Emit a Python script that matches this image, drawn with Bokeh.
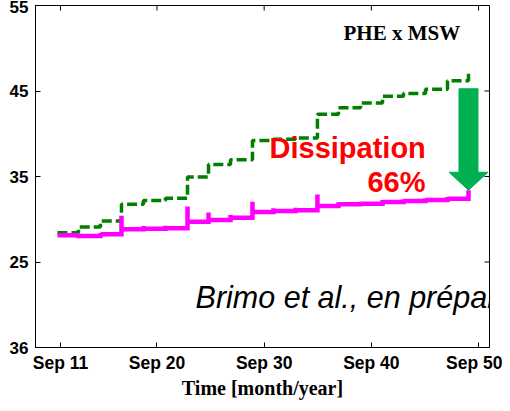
import math
from bokeh.plotting import figure
from bokeh.models import FixedTicker, Label, Range1d
from bokeh.embed import file_html
from bokeh.resources import INLINE

# ---- data ----
step_times = [2010.72, 2012.68, 2014.73, 2016.69, 2018.74, 2020.79, 2022.85, 2024.81,
              2026.86, 2028.91, 2030.87, 2032.92, 2034.97, 2036.93, 2038.99, 2041.04,
              2043.00, 2045.05, 2047.10, 2049.06]
end_time = 2049.25
green_values = [28.43, 29.1, 29.8, 31.75, 32.2, 32.45, 34.95, 36.4, 36.95, 39.2,
                39.35, 39.5, 42.27, 43.05, 43.6, 44.4, 44.7, 45.2, 46.2, 47.1]
magenta_plateau = [28.12, 28.04, 28.24, 28.82, 28.9, 28.94, 29.72, 29.91, 30.18, 30.85,
                   30.96, 31.04, 31.55, 31.75, 31.82, 32.02, 32.13, 32.25, 32.4, 32.6]
magenta_peak = [28.12, 28.2, 28.4, 30.4, 29.2, 29.25, 31.5, 30.8, 30.5, 32.05,
                31.3, 31.35, 32.9, 32.0, 32.05, 32.25, 32.35, 32.45, 32.6, 33.4]
arrow_top_value = 45.26

x_ticks = [2011, 2020, 2030, 2040, 2050]
x_tick_labels = ["Sep 11", "Sep 20", "Sep 30", "Sep 40", "Sep 50"]
y_ticks = [15, 25, 35, 45, 55]
y_tick_labels = ["36", "25", "35", "45", "55"]

X0, X1 = 2008.67, 2051.02
Y0, Y1 = 15, 55

p = figure(width=502, height=403, output_backend="svg", toolbar_location=None,
           x_range=Range1d(X0, X1), y_range=Range1d(Y0, Y1),
           min_border_left=35, min_border_right=13, min_border_top=5, min_border_bottom=56,
           background_fill_color="white", border_fill_color="white")
p.xgrid.visible = False
p.ygrid.visible = False
p.outline_line_color = "black"
p.outline_line_width = 1

def style_axis(ax, ticks, labels, font_size):
    ax.ticker = FixedTicker(ticks=ticks)
    ax.major_label_overrides = {t: l for t, l in zip(ticks, labels)}
    ax.major_tick_in = 5
    ax.major_tick_out = 0
    ax.minor_tick_line_color = None
    ax.axis_line_color = "black"
    ax.major_tick_line_color = "black"
    ax.major_label_text_font = "Liberation Sans"
    ax.major_label_text_font_style = "bold"
    ax.major_label_text_color = "black"
    ax.major_label_text_font_size = font_size

style_axis(p.xaxis[0], x_ticks, x_tick_labels, "17.5px")
p.xaxis[0].major_label_standoff = 5
p.xaxis[0].axis_label = "Time [month/year]"
p.xaxis[0].axis_label_text_font = "Liberation Serif"
p.xaxis[0].axis_label_text_font_style = "bold"
p.xaxis[0].axis_label_text_font_size = "20px"
p.xaxis[0].axis_label_text_color = "black"
p.xaxis[0].axis_label_standoff = 1

style_axis(p.yaxis[0], y_ticks, y_tick_labels, "17px")
p.yaxis[0].major_label_standoff = 7

# inward box ticks on top and right edges (5 px long)
p.ray(x=x_ticks, y=[Y1] * len(x_ticks), length=5, length_units="screen",
      angle=-math.pi / 2, line_color="black", line_width=1)
p.ray(x=[X1] * len(y_ticks), y=y_ticks, length=5, length_units="screen",
      angle=math.pi, line_color="black", line_width=1)

# green dashed step line
p.step(step_times + [end_time], green_values + [green_values[-1]], mode="after",
       line_color="#007F00", line_width=3.5, line_dash="10 4")

# magenta step line with spikes at each change
nxt = step_times[1:] + [end_time]
mx, my = [], []
for t0, t1, pk, pl in zip(step_times, nxt, magenta_peak, magenta_plateau):
    mx += [t0, t0, t1]
    my += [pk, pl, pl]
p.line(mx, my, line_color="#FF00FF", line_width=4.5, line_join="miter")

# big green arrow from the green end down to the magenta end
c = step_times[-1]
hw, HW = 0.886, 1.82
tip = magenta_peak[-1]
head_base = tip + 2.1
p.patch([c - hw, c + hw, c + hw, c + HW, c, c - HW, c - hw],
        [arrow_top_value, arrow_top_value, head_base, head_base, tip, head_base, head_base],
        fill_color="#00B050", line_color="#00B050", line_width=1)

# texts
p.add_layout(Label(x=2037.4, y=51.81, text="PHE x MSW", text_font="Liberation Serif",
                   text_font_style="bold", text_font_size="21px", text_color="black",
                   text_baseline="alphabetic"))
p.add_layout(Label(x=2030.5, y=38.36, text="Dissipation", text_font="Liberation Sans",
                   text_font_style="bold", text_font_size="29px", text_color="#FF0000",
                   text_baseline="alphabetic"))
p.add_layout(Label(x=2045.05, y=34.33, text="66%", text_font="Liberation Sans",
                   text_font_style="bold", text_font_size="29px", text_color="#FF0000",
                   text_align="right", text_baseline="alphabetic"))
p.add_layout(Label(x=2023.6, y=20.88, text="Brimo et al., en prépar", text_font="Liberation Sans",
                   text_font_style="italic", text_font_size="30.5px", text_color="black",
                   text_baseline="alphabetic"))

open("out.html", "w").write(file_html(p, INLINE))
